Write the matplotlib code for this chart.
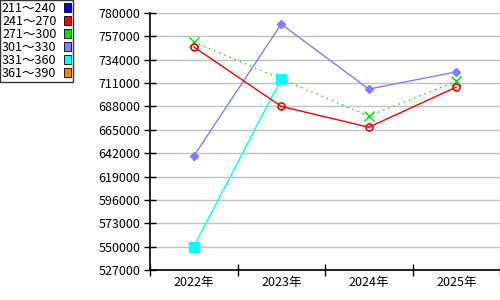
import matplotlib
matplotlib.use("Agg")
import matplotlib.pyplot as plt
from matplotlib.patches import Patch

plt.rcParams["font.family"] = ["Noto Sans CJK JP", "DejaVu Sans"]

years = ["2022年", "2023年", "2024年", "2025年"]
legend_labels = ["211～240", "241～270", "271～300", "301～330", "331～360", "361～390"]
legend_colors = ["#0000ff", "#ff0000", "#00e000", "#8080ff", "#00ffff", "#ff8000"]

s_241_270 = [746500, 688000, 667500, 707000]
s_271_300 = [751500, 715000, 678500, 712500]
s_301_330 = [639000, 769000, 705000, 722000]
s_331_360 = [550000, 715000]

yticks = list(range(527000, 780001, 23000))

fig = plt.figure(figsize=(5, 3), dpi=100)
ax = fig.add_axes([0.30, 0.10, 0.70, 0.857])

xs = [0.5, 1.5, 2.5, 3.5]
ax.plot(xs, s_301_330, color="#8080ff", lw=1, marker="D", ms=4,
        mfc="#8080ff", mec="#8080ff", zorder=3)
ax.plot(xs, s_271_300, color="#00e000", lw=1, ls=(0, (1, 3)), marker="x", ms=7,
        mew=1, zorder=4)
ax.plot(xs[:len(s_331_360)], s_331_360, color="#00ffff", lw=1, marker="s", ms=7,
        mfc="#00ffff", mec="#00ffff", zorder=5)
ax.plot(xs, s_241_270, color="#ff0000", lw=1, marker="o", ms=5,
        mfc="none", mec="#ff0000", mew=1.2, zorder=6)

ax.set_xlim(0, 4)
ax.set_ylim(527000, 780000)
ax.set_yticks(yticks)
ax.set_yticklabels([str(v) for v in yticks], fontsize=9)
ax.set_xticks([0, 1, 2, 3, 4])
ax.set_xticklabels([])
ax.set_xticks(xs, minor=True)
ax.set_xticklabels(years, minor=True, fontsize=9)
ax.tick_params(axis="x", which="minor", length=0, pad=4)
ax.tick_params(axis="x", which="major", direction="inout", length=9, width=1)
ax.tick_params(axis="y", direction="inout", length=8, width=1, pad=3)
ax.grid(axis="y", color="#c0c0c0", lw=1)
ax.set_axisbelow(True)
for side in ["top", "right"]:
    ax.spines[side].set_visible(False)
ax.spines["left"].set_linewidth(1.2)
ax.spines["bottom"].set_linewidth(1.2)

handles = [Patch(facecolor=c, edgecolor="black", lw=0.6) for c in legend_colors]
leg = fig.legend(handles, legend_labels, loc="upper left", bbox_to_anchor=(0.0, 1.0),
                 markerfirst=False, fontsize=9, frameon=True, fancybox=False,
                 handlelength=0.6, handleheight=0.7, handletextpad=0.6,
                 labelspacing=0.0, borderpad=0.15, borderaxespad=0)
leg.get_frame().set_edgecolor("black")
leg.get_frame().set_linewidth(1)

fig.savefig("out.png", dpi=100)
